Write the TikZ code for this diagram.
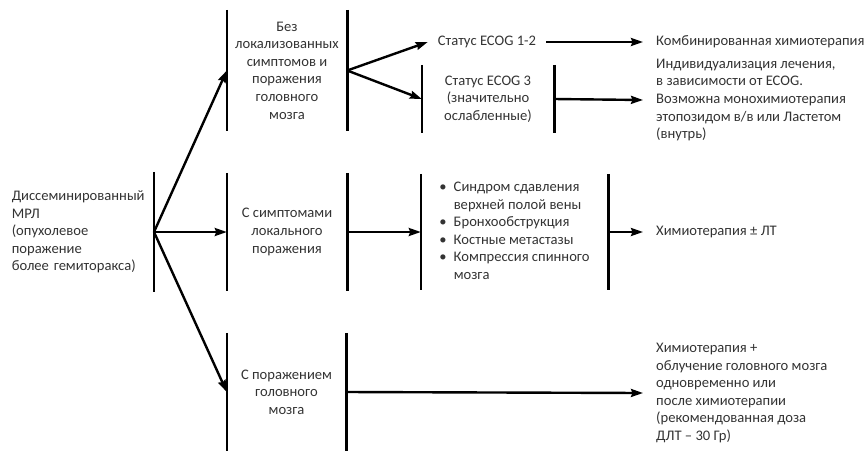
\documentclass[tikz,border=0pt]{standalone}
\usepackage{fontspec}
\setmainfont{Carlito}
\usetikzlibrary{arrows.meta}

\definecolor{txtgray}{HTML}{333333}

\tikzset{
	every node/.style={font=\fontsize{14.6}{17.6}\selectfont, text=txtgray},
	barline/.style={draw=black, line width=2.6pt},
	link/.style={draw=black, line width=2.4pt, -{Stealth[length=12pt,width=8pt,inset=1.5pt]}},
	blk/.style={inner sep=0pt, align=center,
		append after command={(\tikzlastnode.north west) edge[barline] (\tikzlastnode.south west)
			(\tikzlastnode.north east) edge[barline] (\tikzlastnode.south east)}},
	lbar/.style={inner sep=0pt, align=left,
		append after command={(\tikzlastnode.north east) edge[barline] (\tikzlastnode.south east)}},
	res/.style={anchor=west, align=left, inner xsep=13pt, inner ysep=0pt},
}

\begin{document}
\begin{tikzpicture}[x=1pt, y=-1pt]
	\useasboundingbox (0,0) rectangle (865,451);

	\node[lbar, minimum height=120pt, text width=142pt, anchor=east] (start) at (154,232)
		{Диссеминированный\\МРЛ\\(опухолевое\\поражение\\более гемиторакса)};

	\node[blk, minimum width=120pt, minimum height=121pt] (noloc) at (287,70.5)
		{Без\\локализованных\\симптомов и\\поражения\\головного\\мозга};
	\node[blk, minimum width=120pt, minimum height=118pt] (loc) at (287,232)
		{С симптомами\\локального\\поражения};
	\node[blk, minimum width=119pt, minimum height=118pt] (brain) at (286.5,392)
		{С поражением\\головного\\мозга};

	\node[inner xsep=10pt, inner ysep=0pt] (ecog12) at (487,42) {Статус ECOG 1-2};
	\node[blk, minimum width=132pt, minimum height=68pt] (ecog3) at (488,99)
		{Статус ECOG 3\\(значительно\\ослабленные)};
	\node[blk, minimum width=187pt, minimum height=116pt] (sympt) at (514.5,232)
		{\begin{tabular}{@{}l@{\hspace{7pt}}l@{}}
			\textbullet & Синдром сдавления\\
			& верхней полой вены\\
			\textbullet & Бронхообструкция\\
			\textbullet & Костные метастазы\\
			\textbullet & Компрессия спинного\\
			& мозга
		\end{tabular}};

	\node[res] (comb) at (643,42) {Комбинированная химиотерапия};
	\node[res] (indiv) at (643,100)
		{Индивидуализация лечения,\\в зависимости от ECOG.\\Возможна монохимиотерапия\\этопозидом в/в или Ластетом\\(внутрь)};
	\node[res] (chemo) at (643,232) {Химиотерапия ± ЛТ};
	\node[res] (chemorad) at (643,393)
		{Химиотерапия +\\облучение головного мозга\\одновременно или\\после химиотерапии\\(рекомендованная доза\\ДЛТ – 30 Гр)};

	\draw[link] (start.east) -- (noloc.west);
	\draw[link] (start.east) -- (loc.west);
	\draw[link] (start.east) -- (brain.west);
	\draw[link] (noloc.east) -- (ecog12.west);
	\draw[link] (noloc.east) -- (ecog3.west);
	\draw[link] (ecog12.east) -- (comb.west);
	\draw[link] (ecog3.east) -- (indiv.west);
	\draw[link] (loc.east) -- (sympt.west);
	\draw[link] (sympt.east) -- (chemo.west);
	\draw[link] (brain.east) -- (chemorad.west);
\end{tikzpicture}
\end{document}
